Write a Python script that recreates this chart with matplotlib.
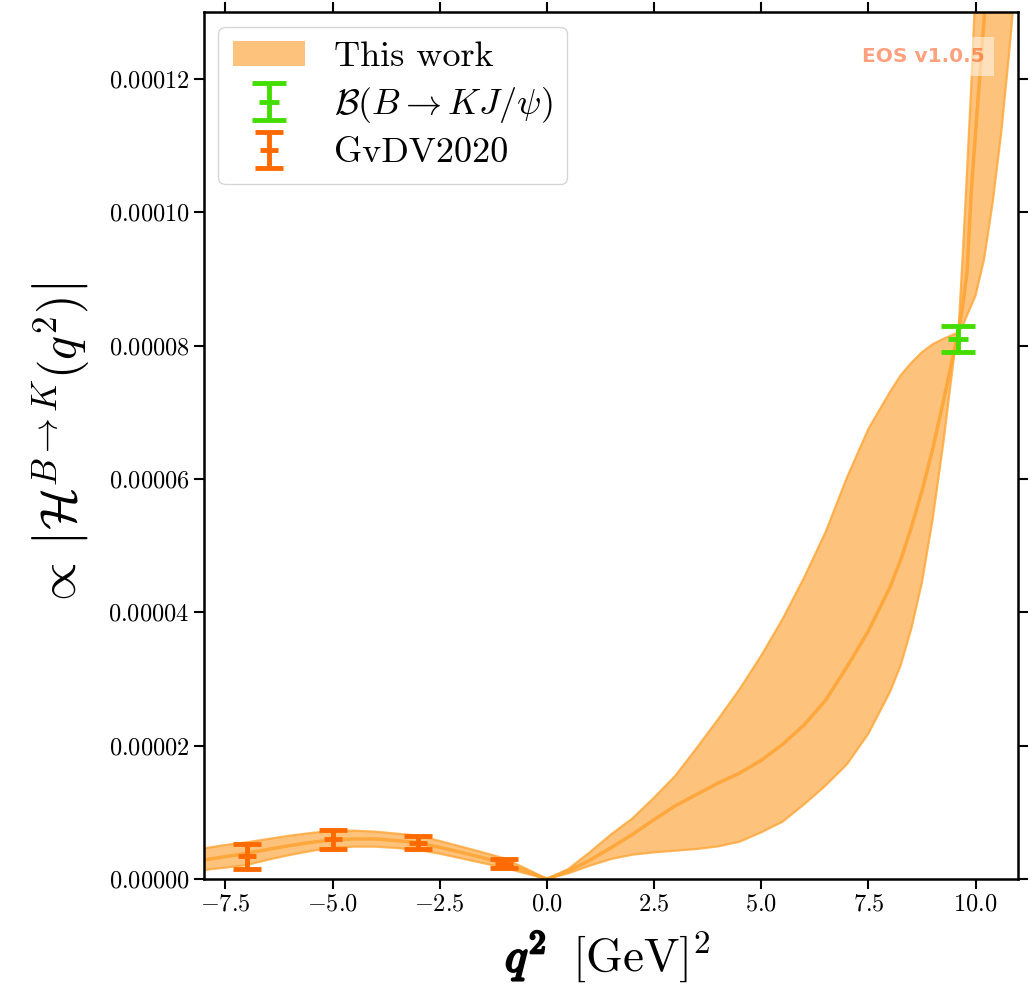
import numpy as np
import matplotlib
matplotlib.use('Agg')
import matplotlib.pyplot as plt
import matplotlib.patheffects as pe
from matplotlib.patches import Patch
from matplotlib.ticker import MultipleLocator, FuncFormatter

plt.rcParams['font.family'] = 'serif'
plt.rcParams['font.serif'] = ['cmr10']
plt.rcParams['mathtext.fontset'] = 'cm'
plt.rcParams['axes.formatter.use_mathtext'] = True

# band: q^2 grid, lower / central / upper edge (in units of 1e-5)
q2 = [-8, -7.5, -7, -6.5, -6, -5.5, -5, -4.5, -4, -3.5, -3, -2.5, -2, -1.5, -1, -0.5, 0,
      0.5, 1, 1.5, 2, 2.5, 3, 3.5, 4, 4.5, 5, 5.5, 6, 6.5, 7, 7.5, 8, 8.25, 8.5, 8.75, 9, 9.25, 9.5,
      9.6, 9.7, 9.8, 9.9, 10.0, 10.2, 10.4, 10.6, 10.8, 11.0]
band_lo = [0.135, 0.17, 0.21, 0.29, 0.36, 0.42, 0.47, 0.485, 0.485, 0.465, 0.435, 0.38, 0.31, 0.24, 0.17, 0.085, 0,
           0.085, 0.20, 0.30, 0.365, 0.40, 0.425, 0.45, 0.49, 0.56, 0.70, 0.86, 1.12, 1.40, 1.72, 2.18, 2.80, 3.20, 3.75, 4.45, 5.40, 6.55, 7.85,
           8.20, 9.35, 10.6, 11.9, 13.4, 16.5, 20.0, 24.0, 28.0, 32.0]
band_mid = [0.285, 0.335, 0.385, 0.445, 0.50, 0.55, 0.585, 0.60, 0.60, 0.575, 0.545, 0.475, 0.40, 0.32, 0.235, 0.12, 0,
            0.12, 0.28, 0.47, 0.67, 0.89, 1.10, 1.27, 1.44, 1.59, 1.78, 2.02, 2.31, 2.68, 3.18, 3.72, 4.37, 4.78, 5.27, 5.82, 6.45, 7.17, 7.92,
            8.20, 8.6, 9.1, 10.3, 11.2, 12.9, 15.0, 17.0, 19.0, 21.0]
band_hi = [0.46, 0.51, 0.55, 0.60, 0.65, 0.69, 0.72, 0.725, 0.71, 0.68, 0.65, 0.57, 0.485, 0.40, 0.31, 0.16, 0,
           0.15, 0.40, 0.67, 0.91, 1.22, 1.55, 1.97, 2.40, 2.85, 3.35, 3.90, 4.52, 5.20, 6.02, 6.75, 7.30, 7.55, 7.74, 7.90, 8.02, 8.10, 8.17,
           8.20, 8.30, 8.45, 8.60, 8.75, 9.3, 10.15, 11.2, 12.5, 14.0]

# GvDV2020 points (units 1e-5)
gvdv_q2 = [-7, -5, -3, -1]
gvdv_val = [0.34, 0.595, 0.545, 0.23]
gvdv_err = [0.19, 0.14, 0.093, 0.063]

# B -> K J/psi
jpsi_q2 = [9.6]
jpsi_val = [8.10]
jpsi_err = [0.19]

scale = 1e-5
q2 = np.array(q2)
lo = np.array(band_lo) * scale
mid = np.array(band_mid) * scale
hi = np.array(band_hi) * scale

fill_c = '#fdc27c'
edge_c = '#ffa535'

fig = plt.figure(figsize=(10.35, 9.84), dpi=100)
ax = fig.add_axes([0.197, 0.1067, 0.787, 0.881])

ax.fill_between(q2, lo, hi, color=fill_c, lw=0, zorder=1)
ax.plot(q2, lo, color=edge_c, lw=1.6, alpha=0.8, zorder=2)
ax.plot(q2, hi, color=edge_c, lw=1.6, alpha=0.8, zorder=2)
ax.plot(q2, mid, color=edge_c, lw=2.5, alpha=0.9, zorder=2)

eb_jpsi = ax.errorbar(jpsi_q2, np.array(jpsi_val) * scale, yerr=np.array(jpsi_err) * scale,
                      fmt='_', color='#44dd00', ms=14, mew=3.5, elinewidth=3.5, capsize=12, capthick=3.5, zorder=5)
eb_gvdv = ax.errorbar(gvdv_q2, np.array(gvdv_val) * scale, yerr=np.array(gvdv_err) * scale,
                      fmt='_', color='#ff6a00', ms=13, mew=3.5, elinewidth=3.5, capsize=10, capthick=3.5, zorder=5)

ax.set_xlim(-8, 11)
ax.set_ylim(0, 1.3e-4)
ax.xaxis.set_major_locator(MultipleLocator(2.5))
ax.yaxis.set_major_locator(MultipleLocator(2e-5))
ax.xaxis.set_major_formatter(FuncFormatter(lambda v, p: r'$%.1f$' % v))
ax.yaxis.set_major_formatter(FuncFormatter(lambda v, p: r'$%.5f$' % v))
ax.tick_params(which='both', direction='out', top=True, right=True, length=7, width=1.5, labelsize=17.5)
for s in ax.spines.values():
    s.set_linewidth(1.8)

# x label: bold q^2 then [GeV]^2
fig.text(0.488, 0.013, r'$q^{2}$', fontsize=34, va='baseline', ha='left',
         path_effects=[pe.withStroke(linewidth=1.8, foreground='black')])
fig.text(0.553, 0.013, r'$[\mathrm{GeV}]^2$', fontsize=34, va='baseline', ha='left')
ax.set_ylabel(r'$\propto\,\left|\mathcal{H}^{B\to K}(q^2)\right|$', fontsize=36, labelpad=12)

ax.text(0.958, 0.96, 'EOS v1.0.5', transform=ax.transAxes, ha='right', va='top',
        color='OrangeRed', alpha=0.5, fontsize=14.5, fontweight='bold', family='DejaVu Sans',
        bbox=dict(facecolor='white', alpha=0.5, lw=0, boxstyle='square,pad=0.5'), zorder=10)

handles = [Patch(facecolor=fill_c, edgecolor='none'), eb_jpsi, eb_gvdv]
labels = ['This work', r'$\mathcal{B}(B\to K J/\psi)$', 'GvDV2020']
ax.legend(handles, labels, loc='upper left', fontsize=26, labelspacing=0.33, handlelength=2.0,
          borderaxespad=0.4)

fig.savefig('out.png', dpi=100)
